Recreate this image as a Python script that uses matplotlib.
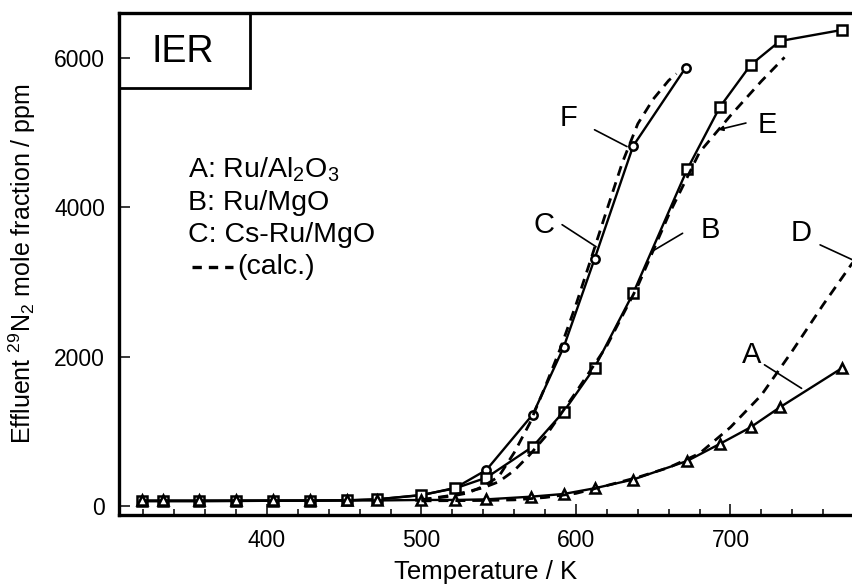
import matplotlib
matplotlib.use('Agg')
import matplotlib.pyplot as plt
from matplotlib.patches import Rectangle
from matplotlib.lines import Line2D

plt.rcParams['font.family'] = ['Liberation Sans', 'DejaVu Sans']
plt.rcParams['mathtext.fontset'] = 'custom'
plt.rcParams['mathtext.rm'] = 'Liberation Sans'
plt.rcParams['mathtext.it'] = 'Liberation Sans:italic'
plt.rcParams['mathtext.default'] = 'rm'

# measured data (temperature / K, effluent 29N2 / ppm)
temp_low = [319, 333, 356, 380, 404, 428, 452, 471, 500]

temp_a = temp_low + [522, 542, 571, 592, 612, 637, 672, 693, 713, 732, 772]
ppm_a = [80, 80, 80, 80, 80, 80, 80, 80, 87,
         87, 95, 131, 167, 243, 360, 609, 836, 1059, 1327, 1849]

temp_b = temp_low + [522, 542, 572, 592, 612, 637, 672, 693, 713, 732, 772]
ppm_b = [72, 72, 72, 74, 76, 78, 82, 95, 154,
         243, 385, 800, 1268, 1857, 2852, 4511, 5340, 5906, 6227, 6375]

temp_c = temp_low + [522, 542, 572, 592, 612, 637, 671]
ppm_c = [72, 72, 72, 74, 76, 78, 82, 95, 150,
         250, 488, 1230, 2130, 3310, 4823, 5871]

# calculated curves
temp_d = [500, 540, 560, 580, 600, 620, 640, 660, 680, 700, 720, 740, 760, 779]
ppm_d = [75, 80, 88, 120, 175, 280, 390, 520, 710, 1060, 1490, 2080, 2700, 3260]

temp_e = [500, 520, 540, 550, 560, 570, 580, 590, 600, 620, 640, 660, 680, 700, 720, 735]
ppm_e = [90, 150, 250, 330, 480, 690, 930, 1230, 1530, 2150, 2950, 3900, 4740, 5230, 5690, 6010]

temp_f = [500, 520, 530, 540, 550, 560, 570, 580, 590, 600, 610, 620, 630, 640, 650, 660, 665]
ppm_f = [90, 140, 180, 270, 400, 720, 1110, 1600, 2120, 2700, 3330, 3970, 4600, 5120, 5450, 5700, 5790]

# curve labels: letter, label position, leader start, leader end
labels = ['F', 'E', 'C', 'B', 'D', 'A']
label_pos = [(595, 5200), (724, 5100), (579, 3770), (687, 3700), (746, 3660), (714, 2030)]
lead_from = [(612, 5040), (710, 5130), (591, 3770), (669, 3655), (758, 3500), (722, 1895)]
lead_to = [(633, 4815), (692, 5040), (613, 3475), (649, 3410), (779, 3300), (746, 1580)]

legend_rows = ['A: Ru/Al$_2$O$_3$', 'B: Ru/MgO', 'C: Cs-Ru/MgO']

fig = plt.figure(figsize=(8.53, 5.84), dpi=100)
ax = fig.add_axes([0.1395, 0.1182, 0.8605, 0.8595])

solid = dict(color='black', lw=1.7, mfc='white', mec='black', mew=1.8,
             solid_joinstyle='round')
ax.plot(temp_c, ppm_c, marker='o', ms=6, **solid)
ax.plot(temp_b, ppm_b, marker='s', ms=7, **solid)
ax.plot(temp_a, ppm_a, marker='^', ms=7.5, **solid)

dash = dict(color='black', lw=2.0, linestyle=(0, (3.6, 2.5)))
ax.plot(temp_d, ppm_d, **dash)
ax.plot(temp_e, ppm_e, **dash)
ax.plot(temp_f, ppm_f, **dash)

for lab, pos, p0, p1 in zip(labels, label_pos, lead_from, lead_to):
    ax.text(pos[0], pos[1], lab, fontsize=21, ha='center', va='center')
    style = '-|>' if lab == 'E' else '-'
    ax.annotate('', xy=p1, xytext=p0, annotation_clip=False,
                arrowprops=dict(arrowstyle=style, color='black', lw=1.2,
                                shrinkA=0, shrinkB=0, mutation_scale=7))

# text legend
rows_y = [0.687, 0.6215, 0.558]
for txt, yy in zip(legend_rows, rows_y):
    ax.text(0.094, yy, txt, transform=ax.transAxes, fontsize=20.5, va='center', ha='left')
ax.add_line(Line2D([0.0995, 0.1553], [0.494, 0.494], transform=ax.transAxes,
                   color='black', lw=2.4, linestyle=(0, (2.8, 2.1))))
ax.text(0.1608, 0.494, '(calc.)', transform=ax.transAxes, fontsize=20.5, va='center', ha='left')

# IER box
ax.add_patch(Rectangle((0, 0.8506), 0.1785, 0.1494, transform=ax.transAxes,
                       fill=False, lw=2.0, ec='black', clip_on=False))
ax.text(0.0872, 0.922, 'IER', transform=ax.transAxes, fontsize=27, ha='center', va='center')

ax.set_xlim(304.2, 779.3)
ax.set_ylim(-114, 6602)
ax.set_xticks([400, 500, 600, 700])
ax.set_xticks(range(320, 780, 20), minor=True)
ax.set_yticks([0, 2000, 4000, 6000])
ax.tick_params(axis='both', which='major', direction='in', length=8, width=1.1,
               labelsize=16.5, pad=10)
ax.tick_params(axis='x', which='minor', direction='in', length=4.5, width=1.1)
ax.tick_params(axis='y', which='minor', left=False)

for side in ['left', 'bottom', 'top']:
    ax.spines[side].set_linewidth(2.4)
ax.spines['right'].set_visible(False)

ax.set_xlabel('Temperature / K', fontsize=18.5)
ax.xaxis.set_label_coords(0.5, -0.09)
ax.set_ylabel('Effluent $^{29}$N$_2$ mole fraction / ppm', fontsize=18)
ax.yaxis.set_label_coords(-0.11, 0.5)

fig.savefig('out.png', dpi=100)
